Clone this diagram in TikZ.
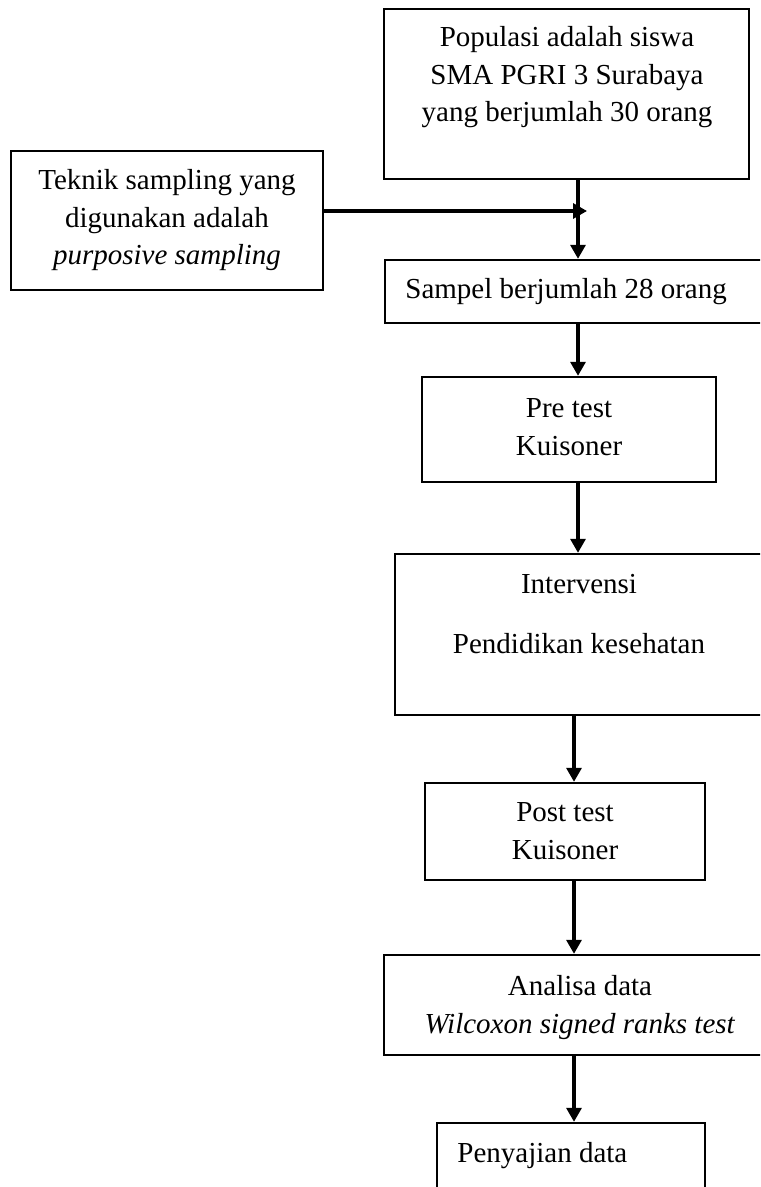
\documentclass[tikz,border=0pt]{standalone}
\usepackage{fontspec}
\setmainfont{Liberation Serif}
\usetikzlibrary{fit,arrows.meta}
\begin{document}
\begin{tikzpicture}[x=0.5pt,y=-0.5pt,
  box/.style={draw, line width=1.2pt, inner sep=0pt},
  txt/.style={inner sep=0pt, align=center, anchor=base, font=\fontsize{14.5}{18.75}\selectfont},
  txtl/.style={inner sep=0pt, anchor=base west, font=\fontsize{14.5}{18.75}\selectfont},
  arr/.style={line width=1.6pt, -{Triangle[length=7pt,width=7.5pt]}}]
\useasboundingbox (0,0) rectangle (760,1187);
\clip (0,0) rectangle (760,1187);
% boxes
\node[box, fit={(384,9) (749,179)}] (b1) {};
\node[box, fit={(11,151) (323,290)}] (b2) {};
\node[box, fit={(385,260) (775,323)}] (b3) {};
\node[box, fit={(422,377) (716,482)}] (b4) {};
\node[box, fit={(395,554) (775,715)}] (b5) {};
\node[box, fit={(425,783) (705,880)}] (b6) {};
\node[box, fit={(384,955) (775,1055)}] (b7) {};
\node[box, fit={(437,1123) (705,1210)}] (b8) {};
% texts (base anchor = baseline of the last line)
\node[txt] (t1) at (567,122) {Populasi adalah siswa\\SMA PGRI 3 Surabaya\\yang berjumlah 30 orang};
\node[txt] (t2) at (167,265) {Teknik sampling yang\\digunakan adalah\\\textit{purposive sampling}};
\node[txtl] (t3) at (405,299) {Sampel berjumlah 28 orang};
\node[txt] (t4) at (569,455) {Pre test\\Kuisoner};
\node[txt] (t5) at (579,653) {Intervensi\\[11.25pt]Pendidikan kesehatan};
\node[txt] (t6) at (565,859) {Post test\\Kuisoner};
\node[txt] (t7) at (580,1033) {Analisa data\\\textit{Wilcoxon signed ranks test}};
\node[txtl] (t8) at (457,1162) {Penyajian data};
% connector x-positions
\coordinate (xa) at (578,0);
\coordinate (xb) at (574,0);
\coordinate (j) at (587,211);
% connectors
\draw[arr] (b1.south -| xa) -- (b3.north -| xa);
\draw[arr] (b2.east |- j) -- (j);
\draw[arr] (b3.south -| xa) -- (b4.north -| xa);
\draw[arr] (b4.south -| xa) -- (b5.north -| xa);
\draw[arr] (b5.south -| xb) -- (b6.north -| xb);
\draw[arr] (b6.south -| xb) -- (b7.north -| xb);
\draw[arr] (b7.south -| xb) -- (b8.north -| xb);
\end{tikzpicture}
\end{document}
